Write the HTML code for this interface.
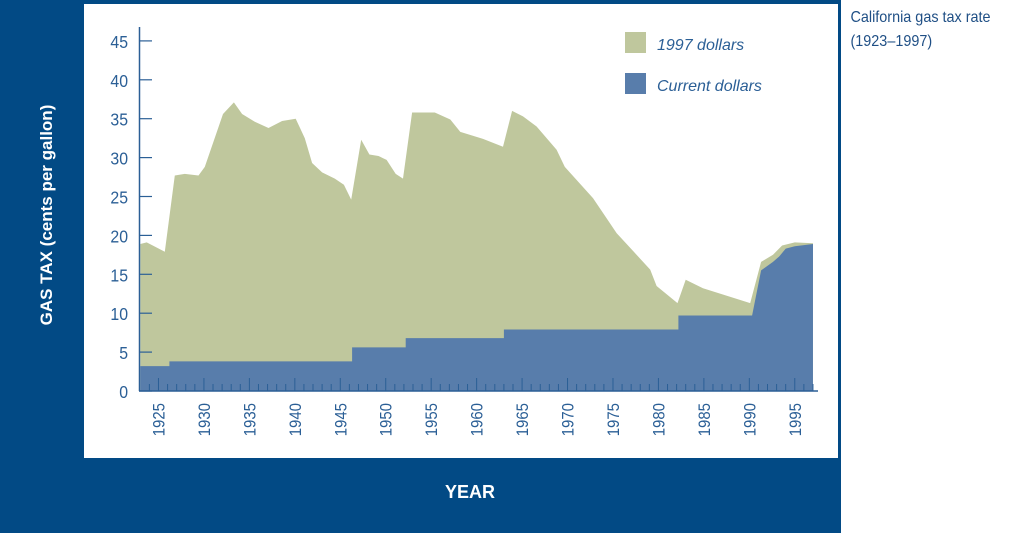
<!DOCTYPE html>
<html><head><meta charset="utf-8"><style>
html,body{margin:0;padding:0;background:#fff;width:1024px;height:535px;overflow:hidden}
svg{display:block;font-family:"Liberation Sans",sans-serif}
</style></head><body>
<svg id="chart" width="1024" height="535" viewBox="0 0 1024 535">
<rect x="0" y="0" width="841" height="533" fill="#024a85"/>
<rect x="84" y="4" width="754" height="454" fill="#ffffff"/>
<g id="areas"></g>
<g id="axes"></g>
<rect x="625" y="32" width="21" height="21" fill="#bfc79d"/>
<text x="657" y="50" font-size="16" font-style="italic" fill="#2b5f96">1997 dollars</text>
<rect x="625" y="73" width="21" height="21" fill="#587dab"/>
<text x="657" y="91" font-size="16" font-style="italic" fill="#2b5f96">Current dollars</text>
<text transform="translate(52,215) rotate(-90)" text-anchor="middle" font-size="17" font-weight="bold" fill="#fff">GAS TAX (cents per gallon)</text>
<text x="470" y="498" text-anchor="middle" font-size="18" font-weight="bold" fill="#fff">YEAR</text>
<text x="851" y="22" font-size="16" fill="#1f4f85" transform="scale(0.9,1)"><tspan x="945" y="22">California gas tax rate</tspan><tspan x="945" y="46">(1923–1997)</tspan></text>
</svg>
<script>
const realYears=[1923,1923.7,1925.7,1926.8,1927.9,1929.4,1930.1,1932.1,1933.3,1934.2,1935.6,1937.1,1938.6,1940.1,1941.1,1941.9,1943,1944.4,1945.4,1946.2,1947.3,1948.2,1949.2,1950.1,1951.1,1951.9,1952.9,1955.4,1957.1,1958.2,1960.7,1962.9,1963.9,1965.1,1966.6,1968.8,1969.7,1972.8,1974.7,1975.4,1979.1,1979.8,1982.1,1983,1984.9,1990.1,1991.3,1992.6,1993.6,1995,1997];
const realValues=[18.9,19.1,17.9,27.7,27.9,27.7,28.8,35.6,37.1,35.6,34.6,33.8,34.7,35.0,32.5,29.3,28.1,27.3,26.5,24.6,32.3,30.4,30.2,29.7,27.9,27.3,35.8,35.8,34.9,33.3,32.4,31.4,36.0,35.3,34.0,31.0,28.8,24.8,21.5,20.3,15.6,13.5,11.3,14.3,13.2,11.3,16.6,17.5,18.7,19.1,19.0];
const curYears=[1923,1926.2,1926.2,1946.3,1946.3,1952.2,1952.2,1963.0,1963.0,1982.2,1982.2,1990.3,1991.3,1992.6,1993.3,1994,1995,1997];
const curValues=[3.2,3.2,3.8,3.8,5.6,5.6,6.8,6.8,7.9,7.9,9.7,9.7,15.5,16.6,17.3,18.3,18.6,18.9];
const yTicks=[0,5,10,15,20,25,30,35,40,45];
const xLabels=[1925,1930,1935,1940,1945,1950,1955,1960,1965,1970,1975,1980,1985,1990,1995];
const NS='http://www.w3.org/2000/svg';
const X=y=>140.3+(y-1923)*9.09;
const Y=v=>391-v*7.78;
function mk(t,a,p){const e=document.createElementNS(NS,t);for(const k in a)e.setAttribute(k,a[k]);p.appendChild(e);return e;}
function area(xs,vs){let d='M'+X(xs[0])+','+Y(0);xs.forEach((x,i)=>d+=' L'+X(x).toFixed(1)+','+Y(vs[i]).toFixed(1));d+=' L'+X(xs[xs.length-1])+','+Y(0)+'Z';return d;}
const ga=document.getElementById('areas');
const a1=mk('path',{d:area(realYears,realValues),fill:'#bfc79d'},ga);


const a2=mk('path',{d:area(curYears,curValues),fill:'#587dab'},ga);


const ax=document.getElementById('axes');
const yl=mk('line',{x1:139.5,y1:27,x2:139.5,y2:391,stroke:'#2b5f96','stroke-width':1.5},ax);


const xl=mk('line',{x1:139,y1:391,x2:818,y2:391,stroke:'#2b5f96','stroke-width':1.5},ax);


yTicks.forEach(v=>{
  const t=mk('line',{x1:139,y1:Y(v),x2:152,y2:Y(v),stroke:'#2b5f96','stroke-width':1.2},ax);
  
  
  const l=mk('text',{x:128,y:Y(v)+7,'text-anchor':'end','font-size':18,fill:'#2b5f96',transform:'translate('+(128*0.12)+',0) scale(0.88,1)'},ax);
  l.setAttribute('x',128/0.88);l.setAttribute('transform','scale(0.88,1)');
  l.textContent=v;
  
  
});
for(let yr=1924;yr<=1997;yr++){
  const major=yr%5===0;
  const t=mk('line',{x1:X(yr),y1:391,x2:X(yr),y2:major?378:384,stroke:'#2b5f96','stroke-width':1},ax);
  
  
}
xLabels.forEach(yr=>{
  const l=mk('text',{transform:'translate('+(X(yr)+6)+',403) rotate(-90) scale(0.88,1)','text-anchor':'end','font-size':17,fill:'#2b5f96'},ax);
  l.textContent=yr;
  
  
});
</script>
</body></html>
